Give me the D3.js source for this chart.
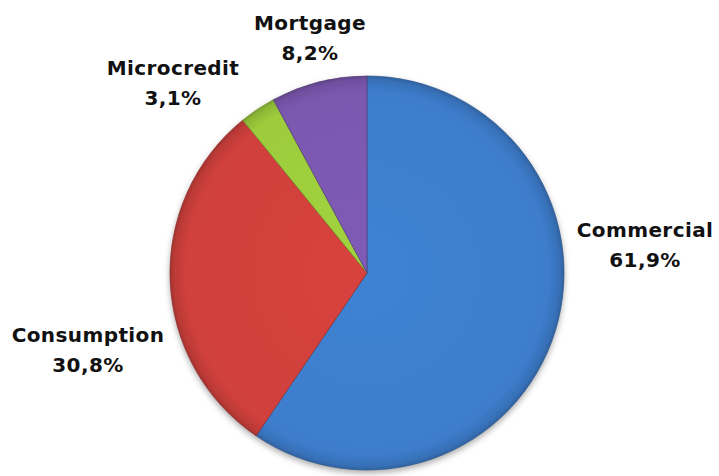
<!DOCTYPE html>
<html>
<head>
<meta charset="utf-8">
<script src="https://cdn.jsdelivr.net/npm/d3@7"></script>
<style>
  body { margin: 0; background: #fff; }
  .pieLabel { font-family: "DejaVu Sans", sans-serif; font-weight: bold; font-size: 20px; letter-spacing: 0.4px; fill: #111; }
</style>
</head>
<body>
<div id="chart"></div>
<script>
// data
const categories = ["Commercial", "Consumption", "Microcredit", "Mortgage"];
const shares = [61.9, 30.8, 3.1, 8.2];
const shareLabels = ["61,9%", "30,8%", "3,1%", "8,2%"];
const sliceColors = ["#3d7dcc", "#d0403c", "#9ccc3c", "#7b58b0"];

const width = 719, height = 476;
const cx = 367, cy = 273, radius = 197;

// where each label sits (centre of the two lines)
const labelPos = [[645, 245], [88, 350], [173, 83], [310, 38]];

let svg = d3.select("#chart").append("svg")
    .attr("width", width)
    .attr("height", height);

let defs = svg.append("defs");

// blur used only for the shadow circle under the pie
defs.append("filter").attr("id", "blur")
    .attr("x", "-10%").attr("y", "-10%").attr("width", "120%").attr("height", "120%")
    .append("feGaussianBlur").attr("stdDeviation", 3);

// one radial gradient per slice: a bit lighter inside, darker on the rim
sliceColors.forEach(function(c, i){
    let g = defs.append("radialGradient")
        .attr("id", "grad" + i)
        .attr("gradientUnits", "userSpaceOnUse")
        .attr("cx", 0).attr("cy", 0).attr("r", radius);
    g.append("stop").attr("offset", "0%").attr("stop-color", d3.color(c).brighter(0.1).formatHex());
    g.append("stop").attr("offset", "92%").attr("stop-color", c);
    g.append("stop").attr("offset", "98%").attr("stop-color", d3.color(c).darker(0.3).formatHex());
    g.append("stop").attr("offset", "100%").attr("stop-color", d3.color(c).darker(0.7).formatHex());
});

let pie = d3.pie().sort(null).value(d => d);
let arcs = pie(shares);
let arc = d3.arc().innerRadius(0).outerRadius(radius);

let pieGroup = svg.append("g")
    .attr("transform", "translate(" + cx + "," + cy + ")");

pieGroup.append("circle")
    .attr("cx", 0).attr("cy", 3)
    .attr("r", radius)
    .attr("fill", "#000")
    .attr("fill-opacity", 0.35)
    .attr("filter", "url(#blur)");

pieGroup.selectAll("path.slice").data(arcs)
    .enter().append("path")
    .attr("class", "slice")
    .attr("d", arc)
    .attr("fill", (d, i) => "url(#grad" + i + ")")
    .attr("stroke", (d, i) => d3.color(sliceColors[i]).darker(1).formatHex())
    .attr("stroke-opacity", 0.7)
    .attr("stroke-width", 1)
    .attr("stroke-linejoin", "round");

let labels = svg.selectAll("text.pieLabel").data(categories)
    .enter().append("text")
    .attr("class", "pieLabel")
    .attr("text-anchor", "middle")
    .attr("x", (d, i) => labelPos[i][0])
    .attr("y", (d, i) => labelPos[i][1]);

labels.append("tspan")
    .attr("x", (d, i) => labelPos[i][0])
    .attr("dy", -8)
    .text(d => d);
labels.append("tspan")
    .attr("x", (d, i) => labelPos[i][0])
    .attr("dy", 30)
    .text((d, i) => shareLabels[i]);
</script>
</body>
</html>
